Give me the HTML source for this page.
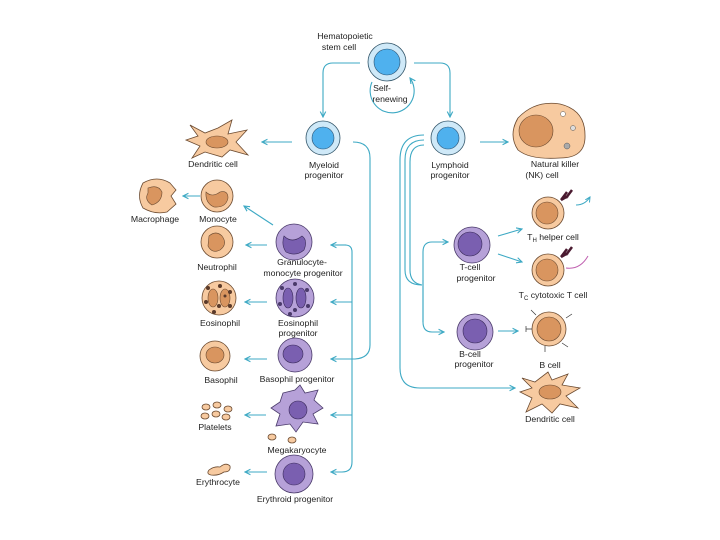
<!DOCTYPE html>
<html><head><meta charset="utf-8"><style>
html,body{margin:0;padding:0;background:#fff;}
svg{display:block;}
text{font-family:"Liberation Sans",sans-serif;font-size:8.7px;fill:#222;text-anchor:middle;}
.a{fill:none;stroke:#3da9c4;stroke-width:1.1;}
.o{fill:#f7caa0;stroke:#6b4a30;stroke-width:.8;}
.on{fill:#d9955f;stroke:#6b4a30;stroke-width:.6;}
.p{fill:#b6a1d8;stroke:#4a3a6a;stroke-width:.8;}
.pn{fill:#7a5fb0;stroke:#3a2a5a;stroke-width:.6;}
.b{fill:#cfe9f8;stroke:#33566a;stroke-width:.8;}
.bn{fill:#4fb1ee;stroke:#2a5070;stroke-width:.6;}
.d{fill:#5a3a2a;}
</style></head><body>
<svg width="720" height="540" viewBox="0 0 720 540" xmlns="http://www.w3.org/2000/svg">
<defs><marker id="ar" markerWidth="6" markerHeight="6" refX="5" refY="3" orient="auto"><path d="M0,0.5 L5,3 L0,5.5" fill="none" stroke="#3da9c4" stroke-width="1"/></marker></defs>

<!-- HSC -->
<text x="345" y="39">Hematopoietic</text><text x="339" y="50">stem cell</text>
<circle cx="387" cy="62" r="19" class="b"/><circle cx="387" cy="62" r="13" class="bn"/>
<path class="a" d="M372,82 A22,22 0 1 0 410,78" marker-end="url(#ar)"/>
<text x="382" y="91">Self-</text><text x="390" y="102">renewing</text>
<path class="a" d="M360,63 H333 Q323,63 323,73 V117" marker-end="url(#ar)"/>
<path class="a" d="M414,63 H440 Q450,63 450,73 V117" marker-end="url(#ar)"/>

<!-- Myeloid -->
<circle cx="323" cy="138" r="17" class="b"/><circle cx="323" cy="138" r="11" class="bn"/>
<text x="324" y="168">Myeloid</text><text x="324" y="178">progenitor</text>
<circle cx="448" cy="138" r="17" class="b"/><circle cx="448" cy="138" r="11" class="bn"/>
<text x="450" y="168">Lymphoid</text><text x="450" y="178">progenitor</text>

<!-- dendritic left -->
<path class="o" d="M190,125 L205,133 L218,128 L232,120 L228,134 L247,130 L236,142 L248,155 L230,150 L222,157 L205,152 L192,158 L200,146 L186,140 L198,136 Z"/>
<ellipse cx="217" cy="142" rx="11" ry="6" class="on"/>
<text x="213" y="167">Dendritic cell</text>
<path class="a" d="M292,142 H262" marker-end="url(#ar)"/>

<!-- NK -->
<path class="o" d="M518,118 Q535,100 560,104 Q585,110 585,135 Q586,158 560,158 Q530,160 518,150 Q508,135 518,118 Z"/>
<ellipse cx="536" cy="131" rx="17" ry="16" class="on"/>
<circle cx="563" cy="114" r="2.5" fill="#fff" stroke="#555" stroke-width=".5"/>
<circle cx="573" cy="128" r="2.5" fill="#ddd" stroke="#555" stroke-width=".5"/>
<circle cx="567" cy="146" r="3" fill="#aaa" stroke="#555" stroke-width=".5"/>
<text x="555" y="167">Natural killer</text><text x="542" y="178">(NK) cell</text>
<path class="a" d="M480,142 H508" marker-end="url(#ar)"/>

<!-- macrophage, monocyte -->
<path class="o" d="M143,183 Q157,175 170,183 L176,190 L171,196 L176,204 L167,212 Q155,215 143,208 Q136,196 143,183 Z"/>
<path class="on" d="M148,188 Q158,184 162,192 Q162,202 152,205 Q144,200 148,193 Z"/>
<text x="155" y="222">Macrophage</text>
<circle cx="217" cy="196" r="16" class="o"/>
<path class="on" d="M206,192 Q212,198 220,192 Q228,190 228,198 Q226,208 214,207 Q205,203 206,192 Z"/>
<text x="218" y="222">Monocyte</text>
<path class="a" d="M200,196 H183" marker-end="url(#ar)"/>
<path class="a" d="M273,225 L244,206" marker-end="url(#ar)"/>

<!-- GM progenitor, neutrophil -->
<circle cx="294" cy="242" r="18" class="p"/>
<path class="pn" d="M284,236 Q292,244 302,236 Q308,240 304,250 Q296,257 286,252 Q281,245 284,236 Z"/>
<text x="302" y="265">Granulocyte-</text><text x="303" y="276">monocyte progenitor</text>
<circle cx="217" cy="242" r="16" class="o"/>
<path class="on" d="M209,236 Q216,230 222,236 Q228,244 220,250 Q212,254 208,246 Z"/>
<text x="217" y="270">Neutrophil</text>
<path class="a" d="M267,245 H246" marker-end="url(#ar)"/>

<!-- Eosinophil -->
<circle cx="219" cy="298" r="17" class="o"/>
<ellipse cx="213" cy="298" rx="5" ry="9" class="on"/><ellipse cx="225" cy="298" rx="5" ry="9" class="on"/>
<g class="d"><circle cx="208" cy="288" r="2"/><circle cx="220" cy="286" r="2"/><circle cx="230" cy="292" r="2"/><circle cx="206" cy="302" r="2"/><circle cx="219" cy="306" r="2"/><circle cx="230" cy="306" r="2"/><circle cx="214" cy="312" r="2"/><circle cx="225" cy="296" r="1.5"/></g>
<text x="220" y="326">Eosinophil</text>
<circle cx="295" cy="298" r="19" class="p"/>
<ellipse cx="288" cy="298" rx="5" ry="10" class="pn"/><ellipse cx="301" cy="298" rx="5" ry="10" class="pn"/>
<g fill="#4a3a6a"><circle cx="282" cy="288" r="2"/><circle cx="295" cy="284" r="2"/><circle cx="307" cy="290" r="2"/><circle cx="280" cy="304" r="2"/><circle cx="295" cy="310" r="2"/><circle cx="308" cy="306" r="2"/><circle cx="290" cy="314" r="2"/></g>
<text x="298" y="326">Eosinophil</text><text x="298" y="336">progenitor</text>
<path class="a" d="M267,302 H245" marker-end="url(#ar)"/>

<!-- Basophil -->
<circle cx="215" cy="356" r="15" class="o"/>
<ellipse cx="215" cy="355" rx="9" ry="8" class="on"/>
<text x="221" y="383">Basophil</text>
<circle cx="295" cy="355" r="17" class="p"/>
<ellipse cx="293" cy="354" rx="10" ry="9" class="pn"/>
<text x="297" y="382">Basophil progenitor</text>
<path class="a" d="M267,359 H245" marker-end="url(#ar)"/>

<!-- Platelets, megakaryocyte -->
<g class="o"><ellipse cx="206" cy="407" rx="4" ry="3"/><ellipse cx="217" cy="405" rx="4" ry="3"/><ellipse cx="228" cy="409" rx="4" ry="3"/><ellipse cx="205" cy="416" rx="4" ry="3"/><ellipse cx="216" cy="414" rx="4" ry="3"/><ellipse cx="226" cy="417" rx="4" ry="3"/></g>
<text x="215" y="430">Platelets</text>
<path class="p" d="M283,393 L295,390 L300,385 L305,393 L318,390 L314,400 L323,408 L313,414 L318,424 L303,422 L296,432 L290,424 L276,426 L280,414 L271,408 L280,402 Z"/>
<circle cx="298" cy="410" r="9" class="pn"/>
<g class="o"><ellipse cx="272" cy="437" rx="4" ry="3"/><ellipse cx="292" cy="440" rx="4" ry="3"/></g>
<text x="297" y="453">Megakaryocyte</text>
<path class="a" d="M266,415 H245" marker-end="url(#ar)"/>

<!-- Erythrocyte -->
<path class="o" d="M209,470 Q214,466 220,467 Q226,462 230,466 Q231,472 224,472 Q218,476 211,475 Q206,474 209,470 Z"/>
<text x="218" y="485">Erythrocyte</text>
<circle cx="294" cy="474" r="19" class="p"/><circle cx="294" cy="474" r="11" class="pn"/>
<text x="295" y="502">Erythroid progenitor</text>
<path class="a" d="M267,472 H245" marker-end="url(#ar)"/>

<!-- myeloid lines -->
<path class="a" d="M353,142 Q370,142 370,158 V345 Q370,358 355,359 H331" marker-end="url(#ar)"/>
<path class="a" d="M345,245 Q352,245 352,252 V462 Q352,472 342,472 H331" marker-end="url(#ar)"/>
<path class="a" d="M346,245 H331" marker-end="url(#ar)"/>
<path class="a" d="M352,302 H331" marker-end="url(#ar)"/>
<path class="a" d="M352,415 H331" marker-end="url(#ar)"/>

<!-- lymphoid lines -->
<path class="a" d="M424,135 Q400,135 400,160 V368 Q400,388 420,388 H515" marker-end="url(#ar)"/>
<path class="a" d="M424,140 Q405,140 405,160 V270 Q405,285 422,285"/>
<path class="a" d="M424,145 Q410,145 410,162 V270 Q410,283 422,285"/>
<path class="a" d="M423,322 V252 Q423,242 432,242 H448" marker-end="url(#ar)"/>
<path class="a" d="M423,280 V322 Q423,332 432,332 H444" marker-end="url(#ar)"/>

<!-- T cell progenitor -->
<circle cx="472" cy="245" r="18" class="p"/><circle cx="470" cy="244" r="12" class="pn"/>
<text x="470" y="270">T-cell</text><text x="476" y="281">progenitor</text>
<path class="a" d="M498,236 L522,229" marker-end="url(#ar)"/>
<path class="a" d="M498,254 L522,262" marker-end="url(#ar)"/>

<!-- TH -->
<circle cx="548" cy="213" r="16" class="o"/><circle cx="547" cy="213" r="11" class="on"/>
<path d="M561,200 L567,192 M566,198 L572,190 M561,200 L568,196" stroke="#4a1a30" stroke-width="2.5" fill="none"/>
<path d="M576,205 Q585,205 590,197" fill="none" stroke="#3da9c4" stroke-width="1" marker-end="url(#ar)"/>
<text x="553" y="240">T<tspan font-size="6" dy="2">H</tspan><tspan dy="-2"> helper cell</tspan></text>
<!-- Tc -->
<circle cx="548" cy="270" r="16" class="o"/><circle cx="547" cy="270" r="11" class="on"/>
<path d="M561,257 L567,249 M566,255 L572,247 M561,257 L568,253" stroke="#4a1a30" stroke-width="2.5" fill="none"/>
<path d="M566,268 Q580,270 588,256" fill="none" stroke="#c060b0" stroke-width="1"/>
<text x="553" y="298">T<tspan font-size="6" dy="2">C</tspan><tspan dy="-2"> cytotoxic T cell</tspan></text>

<!-- B cell progenitor -->
<circle cx="475" cy="332" r="18" class="p"/><circle cx="475" cy="331" r="12" class="pn"/>
<text x="470" y="357">B-cell</text><text x="474" y="367">progenitor</text>
<path class="a" d="M498,331 L518,331" marker-end="url(#ar)"/>
<circle cx="549" cy="329" r="17" class="o"/><circle cx="549" cy="329" r="12" class="on"/>
<g stroke="#333" stroke-width=".7" fill="none"><path d="M532,329 H526 M526,326 V332"/><path d="M566,318 L572,314 M536,315 L531,310 M562,343 L568,347 M545,346 V352"/></g>
<text x="550" y="368">B cell</text>

<!-- dendritic right -->
<path class="o" d="M522,378 L535,382 L548,372 L552,380 L568,374 L562,385 L580,388 L566,396 L578,408 L560,404 L552,413 L542,404 L526,412 L532,398 L520,392 L532,388 Z"/>
<ellipse cx="550" cy="392" rx="11" ry="7" class="on"/>
<text x="550" y="422">Dendritic cell</text>
</svg>
</body></html>
